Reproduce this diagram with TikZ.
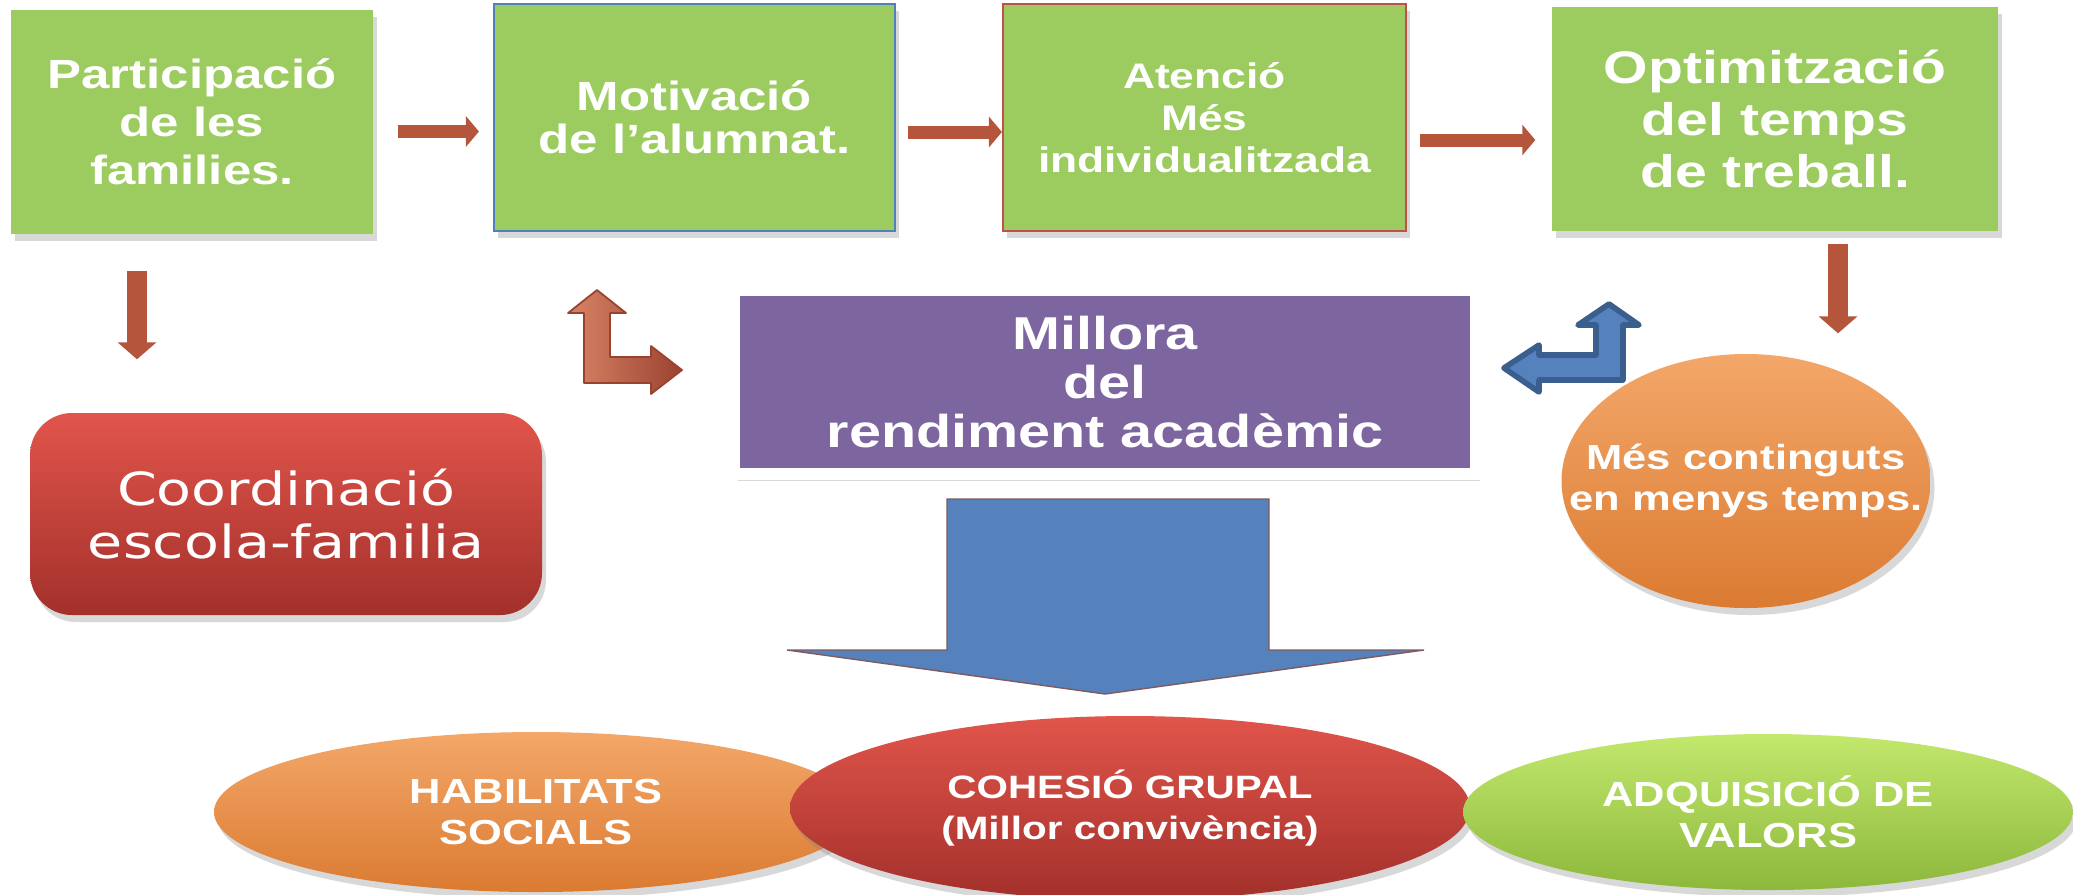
\documentclass[tikz,border=0pt]{standalone}
\usepackage{fontspec}
\setmainfont{Liberation Sans}[FakeStretch=1.25]
\newfontfamily\verdfont{DejaVu Sans}[FakeStretch=1.25]
\usepackage{tikz}
\usetikzlibrary{positioning, arrows.meta, shapes.geometric, shadows}

\definecolor{boxgreen}{HTML}{9CCB5F}
\definecolor{boxpurple}{HTML}{7D65A0}
\definecolor{edgeblue}{HTML}{4F81BD}
\definecolor{edgered}{HTML}{C0504D}
\definecolor{arrowbrown}{HTML}{B5563C}
\definecolor{brlight}{HTML}{D98466}
\definecolor{brdark}{HTML}{9A4230}
\definecolor{bluefill}{HTML}{5581BD}
\definecolor{blueedge}{HTML}{3A5F8E}
\definecolor{bigedge}{HTML}{7E5B5E}
\definecolor{redtop}{HTML}{E1554B}
\definecolor{redbot}{HTML}{A3302B}
\definecolor{orgtop}{HTML}{F3A769}
\definecolor{orgbot}{HTML}{DB7B32}
\definecolor{grntop}{HTML}{C2E86C}
\definecolor{grnbot}{HTML}{8CB83C}

\tikzset{
  softshadow/.style={drop shadow={opacity=0.3, shadow xshift=0.04cm, shadow yshift=-0.07cm}},
  greenbox/.style={rectangle, fill=boxgreen, text=white, align=center, inner sep=0pt, softshadow},
  blob/.style={ellipse, text=white, align=center, inner sep=0pt, softshadow},
  brarrow/.style={draw=arrowbrown, line width=0.13cm, -{Triangle[width=0.3cm,length=0.13cm]}},
  brdown/.style={draw=arrowbrown, line width=0.2cm, -{Triangle[width=0.38cm,length=0.17cm]}},
  brbend/.style={left color=brlight, right color=brdark, draw=brdark, line width=0.5pt, line join=round},
  blbend/.style={fill=bluefill, draw=blueedge, line width=1.6pt, line join=round}
}

\begin{document}
\begin{tikzpicture}
 \path[fill=white, use as bounding box] (0,0) rectangle (20.73,-8.94);

 % top row
 \node[greenbox, minimum width=3.62cm, minimum height=2.24cm, font=\fontsize{11.6}{13.6}\selectfont\bfseries] (part) at (1.92,-1.22) {Participació\\de les\\families.};
 \node[greenbox, draw=edgeblue, line width=0.6pt, minimum width=4.01cm, minimum height=2.27cm, font=\fontsize{11.6}{12.3}\selectfont\bfseries] (motiv) at (6.945,-1.175) {Motivació\\de l’alumnat.};
 \node[greenbox, draw=edgered, line width=0.6pt, minimum width=4.03cm, minimum height=2.27cm, font=\fontsize{10.1}{12}\selectfont\bfseries] (atenc) at (12.045,-1.175) {Atenció\\Més\\individualitzada};
 \node[greenbox, minimum width=4.46cm, minimum height=2.24cm, font=\fontsize{13}{14.7}\selectfont\bfseries] (optim) at (17.75,-1.19) {Optimització\\del temps\\de treball.};

 \draw[brarrow, shorten <=0.24cm, shorten >=0.14cm] ([yshift=-0.095cm]part.east) -- ([yshift=-0.095cm]part.east -| motiv.west);
 \draw[brarrow, shorten <=0.12cm] ([yshift=-0.145cm]motiv.east) -- ([yshift=-0.145cm]motiv.east -| atenc.west);
 \draw[brarrow, shorten <=0.13cm, shorten >=0.16cm] ([yshift=-0.225cm]atenc.east) -- ([yshift=-0.225cm]atenc.east -| optim.west);

 % middle row
 \node[rectangle, fill=boxpurple, draw=white, line width=0.12cm, text=white, align=center, inner sep=0pt, minimum width=7.42cm, minimum height=1.84cm, softshadow, font=\fontsize{13.1}{14}\selectfont\bfseries] (millora) at (11.05,-3.82) {Millora\\del\\rendiment acadèmic};
 \node[rectangle, rounded corners=0.42cm, top color=redtop, bottom color=redbot, text=white, align=center, inner sep=0pt, minimum width=5.12cm, minimum height=2.02cm, softshadow, font=\verdfont\fontsize{13}{15}\selectfont] (coord) at (2.86,-5.14) {Coordinació\\escola-familia};
 \node[blob, top color=orgtop, bottom color=orgbot, minimum width=3.69cm, minimum height=2.54cm, label={[text=white, align=center, font=\fontsize{9.9}{11.7}\selectfont\bfseries]center:{Més continguts\\en menys temps.}}] (mes) at (17.46,-4.81) {};

 \draw[brdown, shorten <=0.36cm, shorten >=0.53cm] ([xshift=-0.55cm]part.south) -- ([xshift=-0.55cm]part.south |- coord.north);
 \draw[brdown, shorten <=0.12cm, shorten >=0.2cm] ([xshift=0.63cm]optim.south) -- ([xshift=0.63cm]optim.south |- mes.north);

 % bent arrows
 \begin{scope}[shift={(millora.west)}]
  \shadedraw[brbend] (-1.44,-0.01) -- (-1.44,0.69) -- (-1.60,0.69) -- (-1.31,0.92) -- (-1.02,0.69) -- (-1.18,0.69) -- (-1.18,0.25) -- (-0.77,0.25) -- (-0.77,0.36) -- (-0.46,0.12) -- (-0.77,-0.12) -- (-0.77,-0.01) -- cycle;
 \end{scope}
 \begin{scope}[shift={(millora.east)}]
  \draw[blbend] (1.41,0.02) -- (1.41,0.57) -- (1.57,0.57) -- (1.27,0.78) -- (0.96,0.57) -- (1.14,0.57) -- (1.14,0.27) -- (0.57,0.27) -- (0.57,0.37) -- (0.22,0.14) -- (0.57,-0.10) -- (0.57,0.02) -- cycle;
 \end{scope}

 % bottom row
 \node[blob, top color=orgtop, bottom color=orgbot, minimum width=6.44cm, minimum height=1.60cm, font=\fontsize{9.9}{11.7}\selectfont\bfseries] (habil) at (5.36,-8.12) {HABILITATS\\SOCIALS};
 \node[blob, top color=redtop, bottom color=redbot, minimum width=6.8cm, minimum height=1.84cm, font=\fontsize{9.2}{11.7}\selectfont\bfseries] (cohes) at (11.30,-8.08) {COHESIÓ GRUPAL\\(Millor convivència)};
 \node[blob, top color=grntop, bottom color=grnbot, minimum width=6.10cm, minimum height=1.56cm, font=\fontsize{9.9}{11.7}\selectfont\bfseries] (adq) at (17.68,-8.12) {ADQUISICIÓ DE\\VALORS};

 % big arrow
 \begin{scope}[shift={(millora.south)}]
  \draw[fill=bluefill, draw=bigedge, line width=0.4pt] (-1.58,-0.19) -- (1.64,-0.19) -- (1.64,-1.70) -- (3.19,-1.70) -- (0,-2.14) -- (-3.18,-1.70) -- (-1.58,-1.70) -- cycle;
 \end{scope}
\end{tikzpicture}
\end{document}
